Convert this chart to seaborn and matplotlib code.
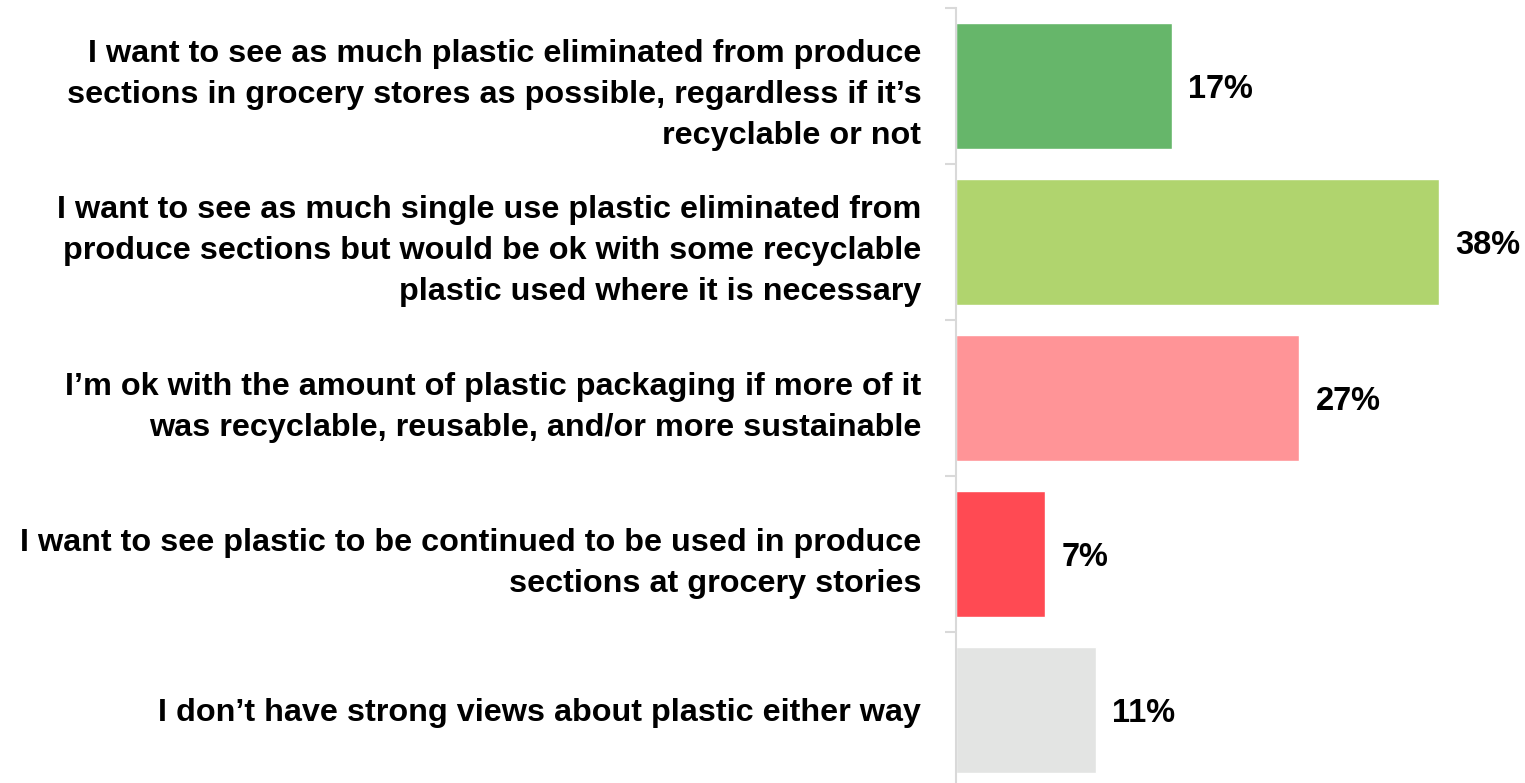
import matplotlib
matplotlib.use("Agg")
import matplotlib.pyplot as plt
import seaborn as sns
import pandas as pd

categories = [
    "I want to see as much plastic eliminated from produce\nsections in grocery stores as possible, regardless if it\u2019s\nrecyclable or not",
    "I want to see as much single use plastic eliminated from\nproduce sections but would be ok with some recyclable\nplastic used where it is necessary",
    "I\u2019m ok with the amount of plastic packaging if more of it\nwas recyclable, reusable, and/or more sustainable",
    "I want to see plastic to be continued to be used in produce\nsections at grocery stories",
    "I don\u2019t have strong views about plastic either way",
]
values = [17, 38, 27, 7, 11]
colors = ["#66B66A", "#B0D46E", "#FF9497", "#FF4A53", "#E3E4E3"]

df = pd.DataFrame({"category": categories, "value": values})

sns.set_theme(style="white")
plt.rcParams["font.family"] = ["Liberation Sans", "DejaVu Sans"]

fig = plt.figure(figsize=(15.25, 7.83), dpi=100)
ax = fig.add_axes([956 / 1525, -5 / 783, 1 - 956 / 1525, 780 / 783])

sns.barplot(data=df, x="value", y="category", hue="category", palette=colors,
            legend=False, width=0.81, saturation=1, ax=ax, orient="h")

ax.set_xlim(0, (1525 - 956) / 12.7)
ax.set_xlabel("")
ax.set_ylabel("")
ax.set_xticks([])

for s in ["top", "right", "bottom"]:
    ax.spines[s].set_visible(False)
ax.spines["left"].set_color("#D9D9D9")
ax.spines["left"].set_linewidth(1.5)

# category boundary ticks on the axis
ax.set_yticks([i - 0.5 for i in range(len(categories) + 1)], minor=True)
ax.tick_params(axis="y", which="minor", length=8, width=1.5, color="#D9D9D9", left=True)
ax.tick_params(axis="y", which="major", length=0, pad=25)
ax.set_yticklabels(categories, fontsize=23.3, fontweight="bold", color="black",
                   ha="right", linespacing=1.48)

for i, v in enumerate(values):
    ax.text(v + 1.3, i, f"{v}%", va="center_baseline", ha="left",
            fontsize=23.5, fontweight="bold", color="black")

fig.savefig("out.png", dpi=100)
